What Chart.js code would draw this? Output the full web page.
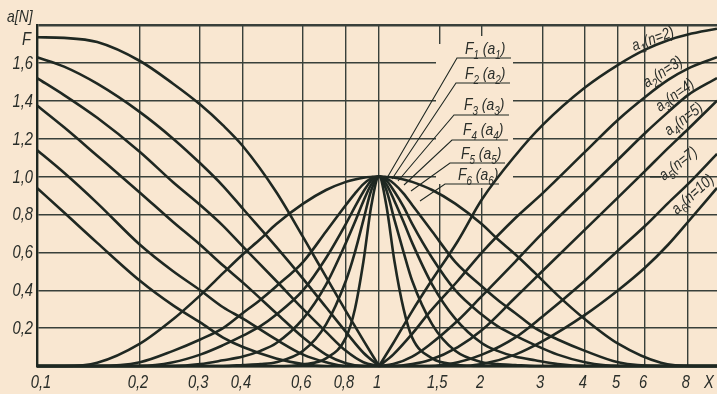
<!DOCTYPE html>
<html>
<head>
<meta charset="utf-8">
<script src="https://cdn.jsdelivr.net/npm/chart.js@4.4.1/dist/chart.umd.min.js"></script>
<style>
  html, body { margin: 0; padding: 0; background: #f9e7d1; }
  #wrap { width: 717px; height: 394px; }
</style>
</head>
<body>
<div id="wrap"><canvas id="c" width="717" height="394"></canvas></div>
<script>
// Axis ticks
const xTicks = [0.1, 0.2, 0.3, 0.4, 0.6, 0.8, 1, 1.5, 2, 3, 4, 5, 6, 8];
const xTickLabels = ['0,1', '0,2', '0,3', '0,4', '0,6', '0,8', '1', '1,5', '2', '3', '4', '5', '6', '8'];
const yTicks = [0.2, 0.4, 0.6, 0.8, 1.0, 1.2, 1.4, 1.6];
const yTickLabels = ['0,2', '0,4', '0,6', '0,8', '1,0', '1,2', '1,4', '1,6'];
const fLevel = 1.732;

// Sample positions on X
const xLeft = [0.1, 0.12, 0.15, 0.2, 0.25, 0.3, 0.35, 0.4, 0.5, 0.6, 0.7, 0.8, 0.9, 1];
const xRight = [1, 1.1, 1.25, 1.4, 1.7, 2, 2.5, 3, 4, 5, 6, 7, 8, 9.73];
const xBell = [0.1, 0.12, 0.15, 0.2, 0.25, 0.3, 0.35, 0.4, 0.45, 0.5, 0.6, 0.7, 0.8, 0.85, 0.9, 0.95, 1,
               1.05, 1.11, 1.18, 1.25, 1.43, 1.67, 2, 2.22, 2.5, 2.86, 3.33, 4, 5, 6.67, 8.33, 9.73];

// a_n below X = 1 (falling branches)
const aLeftN2  = [1.735, 1.732, 1.71, 1.61, 1.49, 1.38, 1.27, 1.16, 0.92, 0.68, 0.47, 0.29, 0.135, 0];
const aLeftN3  = [1.63, 1.58, 1.49, 1.34, 1.20, 1.07, 0.95, 0.83, 0.63, 0.46, 0.31, 0.18, 0.07, 0];
const aLeftN4  = [1.52, 1.43, 1.31, 1.13, 0.97, 0.85, 0.74, 0.63, 0.45, 0.30, 0.18, 0.08, 0.02, 0];
const aLeftN5  = [1.375, 1.26, 1.11, 0.915, 0.76, 0.64, 0.53, 0.44, 0.28, 0.15, 0.06, 0.015, 0, 0];
const aLeftN7  = [1.14, 1.02, 0.86, 0.64, 0.50, 0.40, 0.31, 0.25, 0.14, 0.06, 0.02, 0, 0, 0];
const aLeftN10 = [0.94, 0.81, 0.65, 0.45, 0.32, 0.23, 0.15, 0.10, 0.04, 0.01, 0, 0, 0, 0];

// a_n above X = 1 (rising branches)
const aRightN2  = [0, 0.12, 0.29, 0.43, 0.66, 0.88, 1.11, 1.27, 1.47, 1.59, 1.67, 1.72, 1.75, 1.78];
const aRightN3  = [0, 0.06, 0.17, 0.28, 0.45, 0.60, 0.78, 0.91, 1.13, 1.30, 1.42, 1.51, 1.57, 1.63];
const aRightN4  = [0, 0.01, 0.05, 0.11, 0.24, 0.37, 0.55, 0.70, 0.92, 1.09, 1.23, 1.34, 1.43, 1.52];
const aRightN5  = [0, 0, 0.01, 0.03, 0.10, 0.19, 0.36, 0.50, 0.72, 0.89, 1.03, 1.15, 1.25, 1.40];
const aRightN7  = [0, 0, 0, 0, 0.02, 0.06, 0.15, 0.26, 0.45, 0.61, 0.74, 0.86, 0.96, 1.12];
const aRightN10 = [0, 0, 0, 0, 0, 0.01, 0.06, 0.13, 0.27, 0.40, 0.52, 0.64, 0.76, 0.94];

// F_n curves, peak 1 at X = 1
const bellF1 = [0, 0, 0.017, 0.118, 0.247, 0.373, 0.49, 0.59, 0.67, 0.748, 0.857, 0.929, 0.972, 0.985, 0.994, 0.998, 1,
                0.998, 0.994, 0.985, 0.972, 0.929, 0.857, 0.748, 0.67, 0.59, 0.49, 0.373, 0.247, 0.118, 0.017, 0, 0];
const bellF2 = [0, 0, 0, 0.02, 0.08, 0.14, 0.20, 0.28, 0.35, 0.42, 0.55, 0.71, 0.85, 0.91, 0.96, 0.99, 1,
                0.99, 0.96, 0.91, 0.85, 0.71, 0.55, 0.42, 0.35, 0.28, 0.20, 0.14, 0.08, 0.02, 0, 0, 0];
const bellF3 = [0, 0, 0, 0, 0.02, 0.06, 0.11, 0.16, 0.21, 0.27, 0.40, 0.57, 0.75, 0.84, 0.92, 0.98, 1,
                0.98, 0.92, 0.84, 0.75, 0.57, 0.40, 0.27, 0.21, 0.16, 0.11, 0.06, 0.02, 0, 0, 0, 0];
const bellF4 = [0, 0, 0, 0, 0, 0.01, 0.03, 0.05, 0.08, 0.12, 0.25, 0.43, 0.65, 0.76, 0.87, 0.96, 1,
                0.96, 0.87, 0.76, 0.65, 0.43, 0.25, 0.12, 0.08, 0.05, 0.03, 0.01, 0, 0, 0, 0, 0];
const bellF5 = [0, 0, 0, 0, 0, 0, 0, 0.005, 0.01, 0.02, 0.08, 0.22, 0.45, 0.60, 0.77, 0.93, 1,
                0.93, 0.77, 0.60, 0.45, 0.22, 0.08, 0.02, 0.01, 0.005, 0, 0, 0, 0, 0, 0, 0];
const bellF6 = [0, 0, 0, 0, 0, 0, 0, 0, 0, 0, 0.008, 0.04, 0.15, 0.30, 0.55, 0.85, 1,
                0.85, 0.55, 0.30, 0.15, 0.04, 0.008, 0, 0, 0, 0, 0, 0, 0, 0, 0, 0];

const INK = '#1f2822';
const GRID = '#39403a';
const PAPER = '#f9e7d1';

const pts = (xs, ys) => xs.map((x, i) => ({ x, y: ys[i] }));
const curve = (xs, ys) => ({
  data: pts(xs, ys),
  borderColor: INK,
  borderWidth: 2.6,
  pointRadius: 0,
  cubicInterpolationMode: 'monotone',
  fill: false,
  clip: 6
});

const datasets = [
  curve(xLeft, aLeftN2), curve(xLeft, aLeftN3), curve(xLeft, aLeftN4),
  curve(xLeft, aLeftN5), curve(xLeft, aLeftN7), curve(xLeft, aLeftN10),
  curve(xRight, aRightN2), curve(xRight, aRightN3), curve(xRight, aRightN4),
  curve(xRight, aRightN5), curve(xRight, aRightN7), curve(xRight, aRightN10),
  curve(xBell, bellF1), curve(xBell, bellF2), curve(xBell, bellF3),
  curve(xBell, bellF4), curve(xBell, bellF5), curve(xBell, bellF6)
];

// Text with subscripts, horizontally condensed, optionally rotated
const TXT = '#2a2e2a';
function richText(ctx, x, y, parts, o) {
  const size = o.size || 16;
  const sx = o.sx || 0.82;
  const main = 'italic ' + size + 'px "Liberation Sans", "DejaVu Sans", sans-serif';
  const sub = 'italic ' + Math.round(size * 0.72) + 'px "Liberation Sans", "DejaVu Sans", sans-serif';
  let w = 0;
  parts.forEach(p => { ctx.font = p[1] ? sub : main; w += ctx.measureText(p[0]).width; });
  ctx.save();
  ctx.translate(x, y);
  if (o.angle) ctx.rotate(o.angle * Math.PI / 180);
  ctx.scale(sx, 1);
  let cx = 0;
  if (o.align === 'center') cx = -w / 2;
  else if (o.align === 'right') cx = -w;
  ctx.fillStyle = TXT;
  ctx.textBaseline = 'alphabetic';
  ctx.textAlign = 'left';
  parts.forEach(p => {
    ctx.font = p[1] ? sub : main;
    ctx.fillText(p[0], cx, p[1] ? size * 0.28 : 0);
    cx += ctx.measureText(p[0]).width;
  });
  ctx.restore();
  return w * sx;
}

const fLabels = [
  { n: '1', x: 465, y: 54, ux0: 457, ux1: 511, uy: 58, tx: 387, ty: 178 },
  { n: '2', x: 465, y: 79, ux0: 456, ux1: 510, uy: 83, tx: 392, ty: 179 },
  { n: '3', x: 464, y: 110, ux0: 454, ux1: 509, uy: 115, tx: 398, ty: 181 },
  { n: '4', x: 463, y: 135, ux0: 452, ux1: 508, uy: 140, tx: 404, ty: 185 },
  { n: '5', x: 461, y: 159, ux0: 450, ux1: 505, uy: 163, tx: 411, ty: 191 },
  { n: '6', x: 458, y: 180, ux0: 445, ux1: 499, uy: 184, tx: 420, ty: 201 }
];
const aLabels = [
  { k: '1', n: '2', x: 634, y: 51, a: -20 },
  { k: '2', n: '3', x: 647, y: 88, a: -33 },
  { k: '3', n: '4', x: 660, y: 112, a: -36 },
  { k: '4', n: '5', x: 669, y: 136, a: -37 },
  { k: '5', n: '7', x: 664, y: 181, a: -38 },
  { k: '6', n: '10', x: 677, y: 215, a: -42 }
];

const paper = {
  id: 'paper',
  beforeDraw(chart) {
    const c = chart.ctx;
    c.save();
    c.fillStyle = PAPER;
    c.fillRect(0, 0, chart.width, chart.height);
    c.restore();
  },
  beforeDatasetsDraw(chart) {
    // keep the grid clear behind the F_n labels
    const c = chart.ctx;
    c.save();
    c.fillStyle = PAPER;
    c.fillRect(446, 36, 67, 152);
    c.fillRect(436, 44, 10, 140);
    c.restore();
  },
  afterDraw(chart) {
    const c = chart.ctx;
    const xs = chart.scales.x, ys = chart.scales.y;
    yTicks.forEach((v, i) => richText(c, 33, ys.getPixelForValue(v) + 6, [[yTickLabels[i], 0]], { size: 18, align: 'right' }));
    richText(c, 31, ys.getPixelForValue(fLevel) + 7, [['F', 0]], { size: 18, align: 'right' });
    richText(c, 7, 22, [['a[N]', 0]], { size: 17 });
    xTicks.forEach((v, i) => richText(c, xs.getPixelForValue(v) + (i === 0 ? 4 : -2), 388, [[xTickLabels[i], 0]], { size: 18, align: 'center' }));
    richText(c, 709, 388, [['X', 0]], { size: 18, align: 'center' });
    c.save();
    c.strokeStyle = INK;
    c.lineWidth = 1.1;
    fLabels.forEach(L => {
      c.beginPath();
      c.moveTo(L.ux1, L.uy); c.lineTo(L.ux0, L.uy); c.lineTo(L.tx, L.ty);
      c.stroke();
    });
    c.restore();
    fLabels.forEach(L => richText(c, L.x, L.y, [['F', 0], [L.n, 1], [' (a', 0], [L.n, 1], [')', 0]], { size: 17 }));
    aLabels.forEach(L => richText(c, L.x, L.y, [['a', 0], [L.k, 1], ['(n=' + L.n + ')', 0]], { size: 16, angle: L.a }));
    c.save();
    c.strokeStyle = INK; c.lineWidth = 1.1;
    c.beginPath(); c.moveTo(650, 177); c.lineTo(661, 177); c.stroke();
    c.restore();
  }
};

new Chart(document.getElementById('c'), {
  type: 'line',
  data: { datasets },
  plugins: [paper],
  options: {
    responsive: false,
    animation: false,
    events: [],
    devicePixelRatio: 1,
    layout: { padding: { left: 37, top: 25, right: 0, bottom: 28 } },
    plugins: { legend: { display: false }, tooltip: { enabled: false } },
    scales: {
      x: {
        type: 'logarithmic',
        min: 0.1, max: 9.73,
        afterBuildTicks: s => { s.ticks = xTicks.map(v => ({ value: v })); },
        ticks: { display: false },
        grid: { color: GRID, lineWidth: 1.4, drawTicks: false },
        border: { display: true, color: INK, width: 2.4 }
      },
      y: {
        min: 0, max: 1.8,
        afterBuildTicks: s => { s.ticks = [0, 0.2, 0.4, 0.6, 0.8, 1.0, 1.2, 1.4, 1.6, 1.8].map(v => ({ value: v })); },
        ticks: { display: false },
        grid: {
          color: GRID, drawTicks: false,
          lineWidth: ctx => (ctx.tick && ctx.tick.value > 1.79 ? 2.6 : 1.4)
        },
        border: { display: true, color: INK, width: 2.4 }
      }
    }
  }
});
</script>
</body>
</html>
